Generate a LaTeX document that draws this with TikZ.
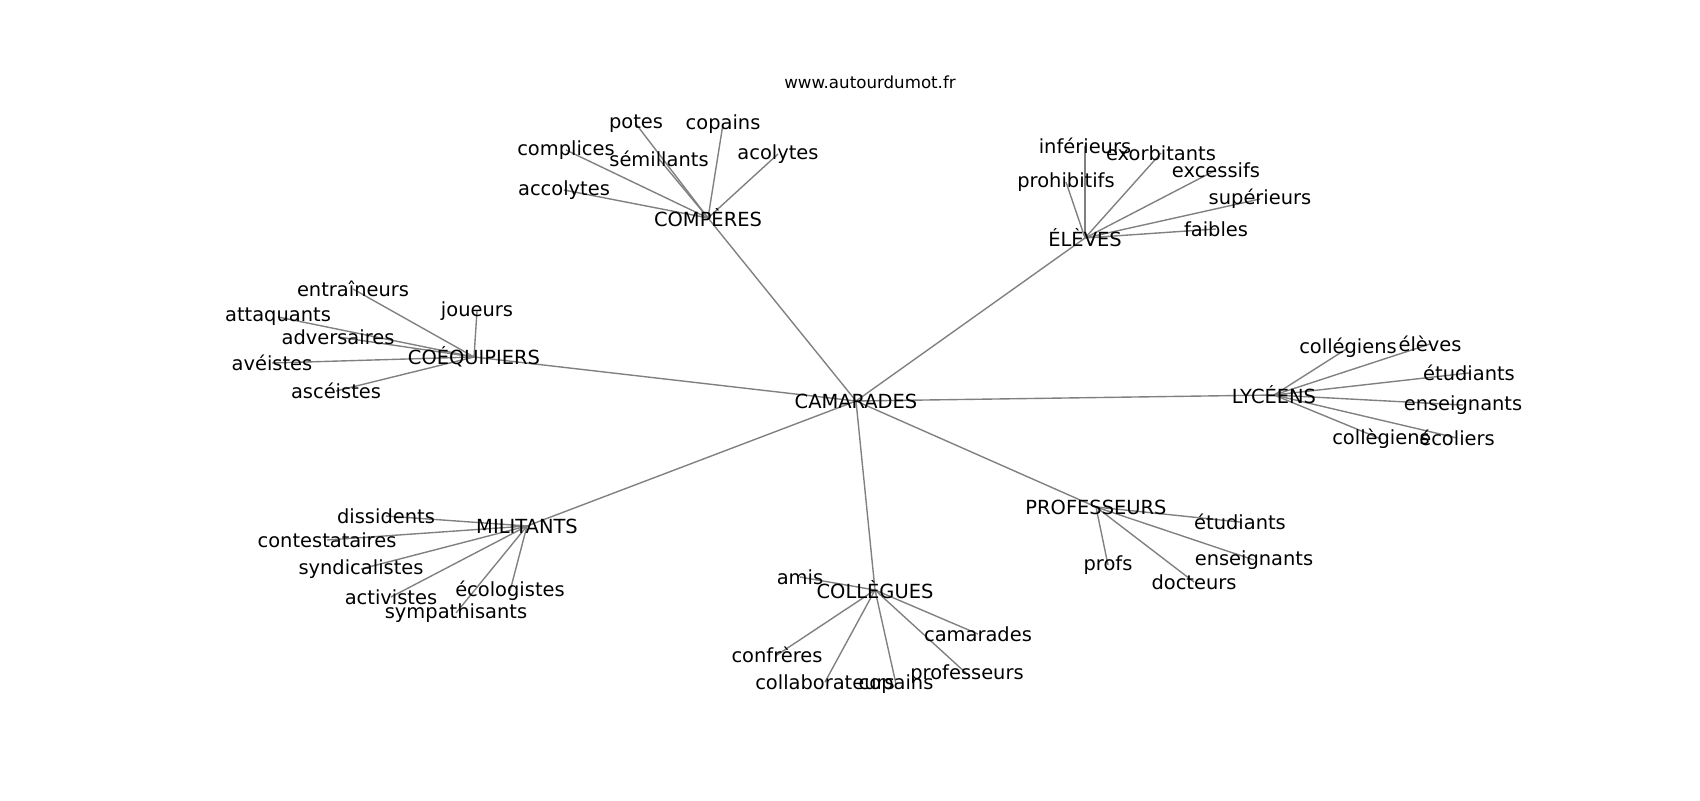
\documentclass[tikz,border=0pt]{standalone}
\usepackage{fontspec}
\setmainfont{DejaVu Sans}
\usetikzlibrary{calc}

\pgfdeclarelayer{background}
\pgfsetlayers{background,main}

\tikzset{
  word/.style={inner sep=0pt, font=\fontsize{14}{17}\selectfont},
  link/.style={draw=gray, line width=1pt},
}

\begin{document}
\begin{tikzpicture}[x=0.72pt, y=-0.72pt]
  \useasboundingbox (0,0) rectangle (1700,800);
  \node[inner sep=0pt, font=\fontsize{12}{14}\selectfont] (t) at (870,82) {www.autourdumot.fr};

  \node[word] (a0) at (856,401) {CAMARADES};
  \node[word] (b1) at (708,218) {COMPÈRES};
  \node[word] (b2) at (1085,238) {ÉLÈVES};
  \node[word] (b3) at (474,357) {COÉQUIPIERS};
  \node[word] (b4) at (1274,395) {LYCÉENS};
  \node[word] (b5) at (1096,507) {PROFESSEURS};
  \node[word] (b6) at (527,526) {MILITANTS};
  \node[word] (b7) at (875,590) {COLLÈGUES};

  \node[word] at ($(b1) + (-72,-94)$) (b11) {potes};
  \node[word] at ($(b1) + (15,-94)$) (b12) {copains};
  \node[word] at ($(b1) + (-142,-68)$) (b13) {complices};
  \node[word] at ($(b1) + (-49,-59)$) (b14) {sémillants};
  \node[word] at ($(b1) + (70,-64)$) (b15) {acolytes};
  \node[word] at ($(b1) + (-144,-28)$) (b16) {accolytes};

  \node[word] at ($(b2) + (0,-92)$) (b21) {inférieurs};
  \node[word] at ($(b2) + (76,-85)$) (b22) {exorbitants};
  \node[word] at ($(b2) + (-19,-56)$) (b23) {prohibitifs};
  \node[word] at ($(b2) + (131,-68)$) (b24) {excessifs};
  \node[word] at ($(b2) + (175,-39)$) (b25) {supérieurs};
  \node[word] at ($(b2) + (131,-9)$) (b26) {faibles};

  \node[word] at ($(b3) + (-121,-68)$) (b31) {entraîneurs};
  \node[word] at ($(b3) + (3,-46)$) (b32) {joueurs};
  \node[word] at ($(b3) + (-196,-40)$) (b33) {attaquants};
  \node[word] at ($(b3) + (-136,-20)$) (b34) {adversaires};
  \node[word] at ($(b3) + (-202,6)$) (b35) {avéistes};
  \node[word] at ($(b3) + (-138,34)$) (b36) {ascéistes};

  \node[word] at ($(b4) + (74,-47)$) (b41) {collégiens};
  \node[word] at ($(b4) + (156,-51)$) (b42) {élèves};
  \node[word] at ($(b4) + (195,-22)$) (b43) {étudiants};
  \node[word] at ($(b4) + (189,10)$) (b44) {enseignants};
  \node[word] at ($(b4) + (107,44)$) (b45) {collègiens};
  \node[word] at ($(b4) + (183,43)$) (b46) {écoliers};

  \node[word] at ($(b5) + (144,15)$) (b51) {étudiants};
  \node[word] at ($(b5) + (158,53)$) (b52) {enseignants};
  \node[word] at ($(b5) + (12,58)$) (b53) {profs};
  \node[word] at ($(b5) + (98,75)$) (b54) {docteurs};

  \node[word] at ($(b6) + (-141,-10)$) (b61) {dissidents};
  \node[word] at ($(b6) + (-200,14)$) (b62) {contestataires};
  \node[word] at ($(b6) + (-166,43)$) (b63) {syndicalistes};
  \node[word] at ($(b6) + (-136,71)$) (b64) {activistes};
  \node[word] at ($(b6) + (-17,65)$) (b65) {écologistes};
  \node[word] at ($(b6) + (-71,87)$) (b66) {sympathisants};

  \node[word] at ($(b7) + (-75,-13)$) (b71) {amis};
  \node[word] at ($(b7) + (103,44)$) (b72) {camarades};
  \node[word] at ($(b7) + (-98,65)$) (b73) {confrères};
  \node[word] at ($(b7) + (92,84)$) (b74) {professeurs};
  \node[word] at ($(b7) + (-50,92)$) (b75) {collaborateurs};
  \node[word] at ($(b7) + (21,94)$) (b76) {copains};

  \begin{pgfonlayer}{background}
    \foreach \h in {b1,b2,b3,b4,b5,b6,b7}
      \draw[link] (a0.center) -- (\h.center);
    \foreach \i in {1,...,6} {
      \draw[link] (b1.center) -- (b1\i.center);
      \draw[link] (b2.center) -- (b2\i.center);
      \draw[link] (b3.center) -- (b3\i.center);
      \draw[link] (b4.center) -- (b4\i.center);
      \draw[link] (b6.center) -- (b6\i.center);
      \draw[link] (b7.center) -- (b7\i.center);
    }
    \foreach \i in {1,...,4}
      \draw[link] (b5.center) -- (b5\i.center);
  \end{pgfonlayer}
\end{tikzpicture}
\end{document}
